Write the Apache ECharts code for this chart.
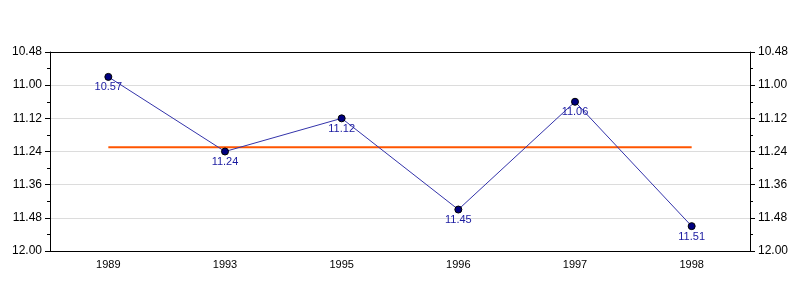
<!DOCTYPE html>
<html>
<head>
<meta charset="utf-8">
<script src="https://cdn.jsdelivr.net/npm/echarts@6/dist/echarts.min.js"></script>
<style>html,body{margin:0;padding:0;background:#fff}#c{width:800px;height:300px}</style>
</head>
<body>
<div id="c"></div>
<script>
// Categories (years)
var categories = ['1989', '1993', '1995', '1996', '1997', '1998'];
// Times as displayed (minutes.seconds)
var timeLabels = ['10.57', '11.24', '11.12', '11.45', '11.06', '11.51'];
// Same values in seconds
var timeSeconds = [657, 684, 672, 705, 666, 711];
// Axis range in seconds (10:48 to 12:00, step 12 s)
var axisMin = 648, axisMax = 720, axisStep = 12;

function fmt(sec) {
  var m = Math.floor(sec / 60), s = Math.round(sec - m * 60);
  return m + '.' + (s < 10 ? '0' + s : s);
}
var mean = timeSeconds.reduce(function (a, b) { return a + b; }, 0) / timeSeconds.length;
var meanData = categories.map(function () { return mean; });

var font = 'Liberation Sans, Arial, sans-serif';
function yAxis(pos) {
  return {
    type: 'value', position: pos, inverse: true,
    min: axisMin, max: axisMax, interval: axisStep,
    axisLine: { show: true, lineStyle: { color: '#000', width: 1 } },
    axisTick: { show: true, length: 5, lineStyle: { color: '#000' } },
    minorTick: { show: true, splitNumber: 2, length: 3, lineStyle: { color: '#000' } },
    splitLine: { show: pos === 'left', lineStyle: { color: '#dcdcdc' } },
    axisLabel: { color: '#000', fontSize: 12, fontFamily: font, margin: 8, formatter: fmt }
  };
}
var chart = echarts.init(document.getElementById('c'));
chart.setOption({
  animation: false,
  grid: { left: 50, right: 50, top: 52, bottom: 49 },
  xAxis: [{
    type: 'category', data: categories, boundaryGap: true, position: 'bottom',
    axisLine: { lineStyle: { color: '#000' } },
    axisTick: { alignWithLabel: true, length: 5, lineStyle: { color: '#000' } },
    axisLabel: { color: '#000', fontSize: 11, fontFamily: font, margin: 8 }
  }, {
    type: 'category', data: categories, boundaryGap: true, position: 'top',
    axisLine: { show: true, lineStyle: { color: '#000' } },
    axisTick: { show: false }, axisLabel: { show: false }, splitLine: { show: false }
  }],
  yAxis: [yAxis('left'), yAxis('right')],
  series: [
    {
      type: 'line', data: meanData, symbol: 'none', z: 1,
      lineStyle: { color: '#ff5500', width: 2 }
    },
    {
      type: 'line', data: timeSeconds, z: 3,
      symbol: 'circle', symbolSize: 7,
      lineStyle: { color: '#3333aa', width: 1 },
      itemStyle: { color: '#000080', borderColor: '#000', borderWidth: 1 },
      label: {
        show: true, position: 'bottom', distance: 1, color: '#1a1aa0', fontSize: 11, fontFamily: font,
        formatter: function (p) { return timeLabels[p.dataIndex]; }
      }
    }
  ]
});
</script>
</body>
</html>
